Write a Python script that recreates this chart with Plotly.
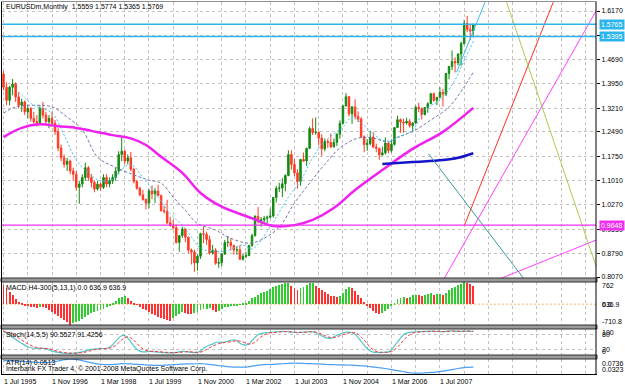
import plotly.graph_objects as go
from plotly.subplots import make_subplots

# ---------------- data ----------------
time_labels = ["1 Jul 1995", "1 Nov 1996", "1 Mar 1998", "1 Jul 1999", "1 Nov 2000",
               "1 Mar 2002", "1 Jul 2003", "1 Nov 2004", "1 Mar 2006", "1 Jul 2007"]
time_label_bars = [0, 16, 32, 48, 64, 80, 96, 112, 128, 144]

opens = [1.425,1.385,1.345,1.385,1.395,1.355,1.330,1.340,1.310,1.320,1.290,1.280,1.275,1.320,1.300,1.280,
         1.290,1.275,1.250,1.200,1.170,1.150,1.160,1.130,1.120,1.080,1.090,1.110,1.140,1.110,1.095,1.075,
         1.090,1.080,1.110,1.090,1.100,1.110,1.130,1.180,1.190,1.160,1.170,1.135,1.098,1.077,1.057,1.043,
         1.032,1.069,1.060,1.069,1.055,1.009,1.007,0.972,0.965,0.957,0.912,0.933,0.953,0.928,0.889,0.883,
         0.850,0.870,0.939,0.937,0.921,0.880,0.888,0.849,0.851,0.877,0.912,0.913,0.903,0.889,0.890,0.861,
         0.870,0.872,0.903,0.933,0.992,0.978,0.981,0.986,0.989,0.993,1.049,1.077,1.078,1.091,1.116,1.180,
         1.150,1.124,1.098,1.165,1.160,1.199,1.259,1.247,1.248,1.230,1.197,1.220,1.217,1.203,1.217,1.242,
         1.275,1.328,1.356,1.304,1.325,1.296,1.288,1.234,1.210,1.213,1.233,1.203,1.199,1.179,1.185,1.215,
         1.192,1.211,1.262,1.286,1.279,1.276,1.281,1.268,1.276,1.324,1.320,1.302,1.323,1.335,1.365,1.345,
         1.354,1.369,1.364,1.427,1.448,1.463,1.459,1.486,1.518,1.579,1.561,1.5559]
highs = [1.435,1.400,1.390,1.410,1.400,1.370,1.350,1.345,1.330,1.325,1.310,1.300,1.330,1.340,1.310,1.300,
         1.310,1.285,1.260,1.210,1.180,1.170,1.165,1.140,1.130,1.100,1.120,1.155,1.145,1.120,1.100,1.100,
         1.095,1.120,1.120,1.110,1.120,1.140,1.190,1.233,1.195,1.180,1.188,1.140,1.102,1.082,1.072,1.046,
         1.075,1.086,1.078,1.088,1.058,1.024,1.042,0.990,0.981,0.967,0.935,0.960,0.955,0.930,0.894,0.890,
         0.876,0.942,0.960,0.945,0.933,0.905,0.895,0.865,0.880,0.920,0.932,0.924,0.906,0.900,0.904,0.877,
         0.884,0.905,0.939,0.995,1.020,0.990,0.993,0.994,1.015,1.050,1.084,1.094,1.108,1.120,1.193,1.193,
         1.166,1.135,1.166,1.186,1.200,1.265,1.290,1.293,1.250,1.242,1.229,1.227,1.244,1.229,1.244,1.284,
         1.330,1.367,1.358,1.328,1.348,1.311,1.294,1.238,1.227,1.252,1.248,1.213,1.200,1.204,1.232,1.216,
         1.226,1.263,1.298,1.290,1.289,1.292,1.288,1.278,1.329,1.337,1.323,1.325,1.339,1.368,1.369,1.355,
         1.385,1.380,1.428,1.450,1.497,1.476,1.488,1.524,1.590,1.602,1.578,1.5774]
lows = [1.375,1.330,1.330,1.360,1.340,1.320,1.310,1.300,1.290,1.280,1.270,1.265,1.270,1.290,1.270,1.260,
        1.270,1.240,1.190,1.160,1.140,1.130,1.120,1.100,1.070,1.030,1.080,1.100,1.100,1.080,1.065,1.070,
        1.070,1.075,1.080,1.080,1.090,1.100,1.120,1.160,1.150,1.150,1.129,1.092,1.073,1.053,1.039,1.013,
        1.016,1.044,1.032,1.053,1.006,1.000,0.969,0.960,0.952,0.909,0.884,0.926,0.913,0.879,0.845,0.823,
        0.826,0.862,0.910,0.905,0.875,0.875,0.844,0.835,0.840,0.874,0.898,0.888,0.875,0.875,0.859,0.857,
        0.864,0.872,0.899,0.930,0.970,0.960,0.969,0.970,0.986,0.988,1.034,1.066,1.050,1.068,1.114,1.134,
        1.114,1.076,1.085,1.158,1.145,1.196,1.239,1.240,1.208,1.176,1.190,1.200,1.200,1.202,1.206,1.228,
        1.272,1.326,1.296,1.273,1.287,1.279,1.230,1.187,1.191,1.208,1.199,1.187,1.164,1.176,1.180,1.183,
        1.186,1.207,1.262,1.246,1.246,1.271,1.262,1.248,1.274,1.309,1.287,1.299,1.307,1.333,1.341,1.330,
        1.354,1.326,1.358,1.409,1.437,1.430,1.452,1.450,1.515,1.553,1.528,1.5365]
closes = [1.385,1.345,1.385,1.395,1.355,1.330,1.340,1.310,1.320,1.290,1.280,1.275,1.320,1.300,1.280,1.290,
          1.275,1.250,1.200,1.170,1.150,1.160,1.130,1.120,1.080,1.090,1.110,1.140,1.110,1.095,1.075,1.090,
          1.080,1.110,1.090,1.100,1.110,1.130,1.180,1.190,1.160,1.170,1.135,1.098,1.077,1.057,1.043,1.032,
          1.069,1.060,1.069,1.055,1.009,1.007,0.972,0.965,0.957,0.912,0.933,0.953,0.928,0.889,0.883,0.850,
          0.870,0.939,0.937,0.921,0.880,0.888,0.849,0.851,0.877,0.912,0.913,0.903,0.889,0.890,0.861,0.870,
          0.872,0.903,0.933,0.992,0.978,0.981,0.986,0.989,0.993,1.049,1.077,1.078,1.091,1.116,1.180,1.150,
          1.124,1.098,1.165,1.160,1.199,1.259,1.247,1.248,1.230,1.197,1.220,1.217,1.203,1.217,1.242,1.275,
          1.328,1.356,1.304,1.325,1.296,1.288,1.234,1.210,1.213,1.233,1.203,1.199,1.179,1.185,1.215,1.192,
          1.211,1.262,1.286,1.279,1.276,1.281,1.268,1.276,1.324,1.320,1.302,1.323,1.335,1.365,1.345,1.354,
          1.369,1.364,1.427,1.448,1.463,1.459,1.486,1.518,1.579,1.561,1.5559,1.5769]

# moving averages (bar index, price)
fast_ma_bars = [5, 10, 16, 20, 24, 28, 32, 36, 39, 42, 46, 51, 55, 59, 62, 65, 70, 74, 79, 82, 88, 94, 98,
                102, 106, 112, 115, 118, 120, 125, 128, 130, 135, 139, 144, 149, 151, 155]
fast_ma_vals = [1.37, 1.33, 1.306, 1.239, 1.163, 1.124, 1.100, 1.105, 1.135, 1.150, 1.110, 1.050, 1.000,
                0.965, 0.929, 0.895, 0.885, 0.888, 0.905, 0.892, 0.960, 1.050, 1.100, 1.170, 1.220, 1.264,
                1.294, 1.276, 1.260, 1.224, 1.222, 1.230, 1.255, 1.316, 1.346, 1.407, 1.446, 1.525]
slow_ma_bars = [0, 4, 10, 16, 21, 26, 31, 36, 43, 48, 52, 56, 60, 64, 70, 74, 81, 86, 91, 96, 101, 106,
                111, 117, 122, 127, 130, 135, 141, 147, 152, 155]
slow_ma_vals = [1.306, 1.325, 1.330, 1.325, 1.294, 1.255, 1.172, 1.145, 1.118, 1.102, 1.093, 1.050, 1.010,
                0.970, 0.950, 0.929, 0.910, 0.925, 0.959, 1.032, 1.093, 1.150, 1.200, 1.230, 1.230, 1.218,
                1.233, 1.250, 1.285, 1.325, 1.386, 1.431]
long_ma_bars = [0, 6, 12, 18, 24, 29, 36, 42, 47, 52, 59, 65, 72, 82, 89, 96, 102, 109, 116, 125, 135,
                145, 155]
long_ma_vals = [1.233, 1.261, 1.272, 1.266, 1.261, 1.252, 1.239, 1.229, 1.209, 1.173, 1.124, 1.063, 1.021,
                0.986, 0.962, 0.965, 0.981, 1.017, 1.072, 1.133, 1.197, 1.249, 1.322]
trend_ma_bars = [125, 135, 145, 150, 155]
trend_ma_vals = [1.151, 1.157, 1.163, 1.170, 1.184]

# drawn objects: horizontal levels and trendlines (bar, price) -> (bar, price)
level_values = [1.5765, 1.5395, 0.9648]
trend_x0 = [152.1, 145.5, 164.4, 140.3, 166.0, 149.5]
trend_y0 = [0.9648, 0.804, 0.804, 1.1816, 1.644, 1.431]
trend_x1 = [181.4, 195.7, 195.7, 171.5, 195.7, 158.9]
trend_y1 = [1.644, 1.620, 0.920, 0.804, 0.835, 1.644]

price_ticks = [1.6170, 1.5430, 1.4690, 1.3950, 1.3210, 1.2490, 1.1750, 1.1010, 1.0270, 0.9530, 0.8790, 0.8070]

macd = [650, 560, 420, 300, 180, 80, 20, -30, -60, -80, -100, -120, -90, -110, -130, -180,
        -250, -320, -400, -480, -550, -620, -710, -650, -600, -560, -500, -450, -380, -300, -250, -220,
        -200, -150, -100, -40, 40, 120, 200, 260, 280, 200, 120, 40, -20, -80, -150, -200,
        -260, -320, -380, -420, -460, -500, -540, -560, -480, -400, -330, -260, -290, -320, -330, -300,
        -250, -200, -170, -150, -130, -200, -260, -230, -150, -110, -90, -70, -60, -30, -10, 10,
        60, 120, 200, 260, 330, 380, 420, 470, 520, 580, 620, 660, 690, 730, 740, 640,
        560, 500, 540, 600, 660, 720, 740, 620, 560, 500, 420, 340, 290, 270, 250, 280,
        400, 530, 600, 560, 450, 330, 200, 80, -40, -140, -230, -290, -330, -300, -220, -150,
        -60, 60, 170, 230, 250, 220, 260, 300, 330, 310, 280, 310, 340, 370, 330, 340,
        360, 320, 400, 480, 560, 600, 650, 710, 762, 730, 700, 636.9]

stoch_main = [88, 85, 78, 68, 60, 52, 45, 38, 32, 28, 26, 25, 26, 25, 24, 20,
              15, 12, 10, 8, 7, 6, 6, 7, 8, 10, 12, 16, 20, 22, 23, 24,
              25, 25, 26, 30, 40, 52, 65, 74, 75, 65, 50, 35, 22, 15, 12, 12,
              14, 13, 12, 11, 10, 9, 8, 8, 9, 10, 12, 14, 13, 12, 10, 9,
              10, 15, 25, 33, 38, 42, 48, 50, 48, 50, 53, 56, 58, 55, 45, 40,
              38, 42, 55, 68, 78, 82, 85, 86, 87, 88, 89, 90, 91, 90, 89, 88,
              87, 86, 87, 88, 89, 90, 89, 86, 80, 74, 68, 65, 64, 70, 76, 80,
              85, 88, 88, 86, 80, 68, 52, 38, 25, 15, 11, 10, 9, 10, 11, 12,
              20, 35, 50, 65, 78, 84, 87, 88, 89, 90, 90, 91, 91, 92, 92, 91,
              90, 90, 91, 92, 93, 92, 91, 91, 92, 92, 91, 90.5527]
stoch_signal = [90, 88, 85, 80, 73, 65, 57, 50, 43, 37, 32, 29, 27, 26, 25, 24,
                21, 17, 14, 11, 9, 8, 7, 7, 7, 8, 9, 11, 14, 17, 20, 22,
                23, 24, 25, 26, 30, 37, 47, 58, 66, 70, 66, 57, 45, 33, 24, 18,
                15, 14, 13, 13, 12, 11, 10, 9, 9, 9, 10, 11, 12, 13, 12, 11,
                10, 11, 15, 21, 28, 34, 39, 44, 46, 48, 49, 51, 53, 55, 53, 50,
                45, 42, 44, 50, 60, 70, 77, 82, 85, 86, 87, 88, 89, 90, 90, 89,
                88, 87, 87, 87, 88, 89, 89, 88, 85, 80, 75, 70, 67, 67, 70, 74,
                78, 82, 85, 86, 85, 80, 70, 57, 43, 30, 20, 14, 11, 10, 10, 11,
                13, 19, 30, 43, 57, 69, 78, 84, 87, 88, 89, 90, 90, 91, 91, 91,
                91, 90, 90, 91, 92, 92, 92, 91, 91, 92, 92, 91.4256]

atr = [0.0690, 0.0690, 0.0685, 0.0680, 0.0680, 0.0675, 0.0670, 0.0665, 0.0660, 0.0655, 0.0650, 0.0645,
       0.0640, 0.0640, 0.0635, 0.0640, 0.0650, 0.0665, 0.0680, 0.0700, 0.0715, 0.0725, 0.0736, 0.0730,
       0.0720, 0.0710, 0.0690, 0.0670, 0.0650, 0.0630, 0.0615, 0.0600, 0.0590, 0.0585, 0.0580, 0.0580,
       0.0585, 0.0590, 0.0600, 0.0610, 0.0610, 0.0600, 0.0600, 0.0595, 0.0590, 0.0585, 0.0580, 0.0575,
       0.0570, 0.0565, 0.0560, 0.0560, 0.0560, 0.0565, 0.0570, 0.0575, 0.0580, 0.0585, 0.0590, 0.0595,
       0.0600, 0.0600, 0.0600, 0.0605, 0.0605, 0.0610, 0.0605, 0.0595, 0.0585, 0.0575, 0.0565, 0.0555,
       0.0545, 0.0535, 0.0525, 0.0520, 0.0515, 0.0510, 0.0510, 0.0510, 0.0515, 0.0525, 0.0540, 0.0555,
       0.0565, 0.0575, 0.0580, 0.0585, 0.0585, 0.0590, 0.0595, 0.0600, 0.0605, 0.0610, 0.0615, 0.0620,
       0.0620, 0.0620, 0.0615, 0.0615, 0.0610, 0.0610, 0.0605, 0.0600, 0.0600, 0.0595, 0.0590, 0.0585,
       0.0580, 0.0580, 0.0575, 0.0575, 0.0575, 0.0570, 0.0570, 0.0565, 0.0560, 0.0555, 0.0550, 0.0545,
       0.0535, 0.0525, 0.0515, 0.0505, 0.0495, 0.0485, 0.0475, 0.0460, 0.0445, 0.0430, 0.0415, 0.0400,
       0.0385, 0.0370, 0.0360, 0.0350, 0.0345, 0.0345, 0.0350, 0.0355, 0.0360, 0.0365, 0.0370, 0.0380,
       0.0390, 0.0400, 0.0415, 0.0430, 0.0445, 0.0460, 0.0475, 0.0490, 0.0500, 0.0505, 0.0510, 0.0513]

bars = list(range(len(closes)))

# ---------------- figure ----------------
W, H = 625, 388
L, R, T, B = 2, 596, 2, 374  # plot area in pixels

def pxx(x):
    return (x - L) / (R - L)

def pxy(y):
    return (B - y) / (B - T)

FONT = "Liberation Sans, Arial, sans-serif"
GRID = "#c8c0c0"

fig = make_subplots(rows=4, cols=1, shared_xaxes=True, vertical_spacing=0.0)

fig.add_trace(go.Candlestick(
    x=bars, open=opens, high=highs, low=lows, close=closes,
    increasing=dict(line=dict(color="#138a13", width=1), fillcolor="#138a13"),
    decreasing=dict(line=dict(color="#ff3a24", width=1), fillcolor="#ff3a24"),
    whiskerwidth=0, hoverinfo="skip"), row=1, col=1)

fig.add_trace(go.Scatter(x=slow_ma_bars, y=slow_ma_vals, mode="lines", line_shape="spline",
                         line=dict(color="#7676a8", width=1, dash="3px,2px")), row=1, col=1)
fig.add_trace(go.Scatter(x=fast_ma_bars, y=fast_ma_vals, mode="lines", line_shape="spline",
                         line=dict(color="#3cc4f0", width=1, dash="2px,2px")), row=1, col=1)
fig.add_trace(go.Scatter(x=long_ma_bars, y=long_ma_vals, mode="lines", line_shape="spline",
                         line=dict(color="#f020f0", width=2.5)), row=1, col=1)
fig.add_trace(go.Scatter(x=trend_ma_bars, y=trend_ma_vals, mode="lines", line_shape="spline",
                         line=dict(color="#1414c8", width=2.5)), row=1, col=1)

trend_colors = ["#ff3020", "#ff40ff", "#ff40ff", "#3a9a9a", "#a8cc50", "#38bcf0"]
for x0, y0, x1, y1, c in zip(trend_x0, trend_y0, trend_x1, trend_y1, trend_colors):
    fig.add_trace(go.Scatter(x=[x0, x1], y=[y0, y1], mode="lines",
                             line=dict(color=c, width=1)), row=1, col=1)

level_colors = ["#2cb4ec", "#2cb4ec", "#f030f0"]
level_widths = [1.6, 1.6, 1.2]
for v, c, w in zip(level_values, level_colors, level_widths):
    fig.add_shape(type="line", xref="paper", yref="y", x0=0, x1=1, y0=v, y1=v,
                  line=dict(color=c, width=w))

# MACD histogram
macd_colors = ["#ff3030"] + ["#30cc30" if macd[i] > macd[i - 1] else "#ff3030" for i in range(1, len(macd))]
fig.add_trace(go.Bar(x=bars, y=macd, marker=dict(color=macd_colors, line=dict(width=0)), width=0.3),
              row=2, col=1)
fig.add_shape(type="line", xref="paper", yref="y2", x0=0, x1=1, y0=0, y1=0,
              line=dict(color="#ffcc99", width=1.5, dash="2px,2px"), layer="below")

# Stochastic
fig.add_trace(go.Scatter(x=bars, y=stoch_main, mode="lines", line_shape="spline",
                         line=dict(color="#50c8c8", width=1.2)), row=3, col=1)
fig.add_trace(go.Scatter(x=bars, y=stoch_signal, mode="lines", line_shape="spline",
                         line=dict(color="#ff3030", width=1, dash="3px,2px")), row=3, col=1)

# ATR
fig.add_trace(go.Scatter(x=bars, y=atr, mode="lines", line_shape="spline",
                         line=dict(color="#4a9ff0", width=1.2)), row=4, col=1)

xaxis_common = dict(range=[-0.5, 195.5], showticklabels=False, showgrid=True, gridcolor=GRID,
                    griddash="dot", gridwidth=1, tick0=0, dtick=8, zeroline=False, ticks="",
                    rangeslider=dict(visible=False), showline=False)
fig.update_layout(
    xaxis=xaxis_common, xaxis2=xaxis_common, xaxis3=xaxis_common, xaxis4=xaxis_common,
    yaxis=dict(domain=[pxy(278), 1], range=[0.804, 1.6444], side="right",
               tickvals=price_ticks, ticktext=["%.4f" % v for v in price_ticks],
               tickfont=dict(family=FONT, size=7, color="black"), ticks="outside", ticklen=3,
               tickcolor="black", showgrid=True, gridcolor=GRID, griddash="dot", zeroline=False),
    yaxis2=dict(domain=[pxy(325), pxy(282)], range=[-710.8, 762], showticklabels=False,
                showgrid=False, zeroline=False),
    yaxis3=dict(domain=[pxy(355), pxy(329)], range=[0, 100], tickvals=[20, 80], showticklabels=False,
                showgrid=True, gridcolor=GRID, griddash="dot", zeroline=False),
    yaxis4=dict(domain=[0, pxy(359)], range=[0.0323, 0.0736], showticklabels=False,
                showgrid=False, zeroline=False),
    width=W, height=H, margin=dict(l=L, r=W - R, t=T, b=H - B, pad=0),
    paper_bgcolor="white", plot_bgcolor="white", showlegend=False, bargap=0,
    font=dict(family=FONT, size=7, color="black"),
)

# borders and panel separators
shapes = []
for y0, y1 in [(278, 282), (325, 329), (355, 359)]:
    shapes.append(dict(type="rect", xref="paper", yref="paper", x0=pxx(1), x1=pxx(597),
                       y0=pxy(y1), y1=pxy(y0), fillcolor="#9a9a9a", line=dict(color="#303030", width=1)))
shapes.append(dict(type="line", xref="paper", yref="paper", x0=pxx(1.5), x1=pxx(1.5), y0=pxy(374), y1=pxy(1),
                   line=dict(color="black", width=1)))
shapes.append(dict(type="line", xref="paper", yref="paper", x0=pxx(596), x1=pxx(596), y0=pxy(375), y1=pxy(1),
                   line=dict(color="black", width=1)))
shapes.append(dict(type="line", xref="paper", yref="paper", x0=pxx(1), x1=pxx(597), y0=pxy(374.5), y1=pxy(374.5),
                   line=dict(color="black", width=1)))
shapes.append(dict(type="line", xref="paper", yref="paper", x0=pxx(1), x1=pxx(597), y0=pxy(1.5), y1=pxy(1.5),
                   line=dict(color="#909090", width=1)))
for s in shapes:
    fig.add_shape(**s)

ann = []
def text(x, y, s, anchor="left", size=7, color="black", bg=None, yref="paper", yval=None):
    d = dict(xref="paper", yref=yref, x=pxx(x), y=(pxy(y) if yval is None else yval), text=s,
             showarrow=False, xanchor=anchor, yanchor="middle",
             font=dict(family=FONT, size=size, color=color))
    if bg:
        d.update(bgcolor=bg, borderpad=1)
    ann.append(d)

text(4, 7, "EURUSDm,Monthly  1.5559 1.5774 1.5365 1.5769")
text(4, 288, "MACD H4-300(5,13,1) 0.0 636.9 636.9")
text(4, 335, "Stoch(14,5,5) 90.5527 91.4256")
text(4, 363, "ATR(14) 0.0513")
text(4, 368.5, "Interbank FX Trader 4, © 2001-2008 MetaQuotes Software Corp.")

# price level tags
level_tags = ["%.4f" % v for v in level_values]
for v, c, t in zip(level_values, level_colors, level_tags):
    text(599, 0, t, color="white", bg=c, yref="y", yval=v)

# sub-window scale labels (they overlap in the original terminal too)
text(600, 285.5, "762")
text(600, 304.5, "0.0")
text(600, 304.5, "636.9")
text(600, 321.5, "-710.8")
text(600, 332.5, "100")
text(600, 334.5, "80")
text(600, 349.5, "20")
text(600, 351, "0")
text(600, 363.5, "0.0736")
text(600, 369.5, "0.0323")

# time labels
for b, t in zip(time_label_bars, time_labels):
    ann.append(dict(xref="x4", yref="paper", x=b - 0.5, y=pxy(381), text=t, showarrow=False,
                    xanchor="left", yanchor="middle", font=dict(family=FONT, size=7, color="black")))

fig.update_layout(annotations=ann)
fig.write_html("out.html")
